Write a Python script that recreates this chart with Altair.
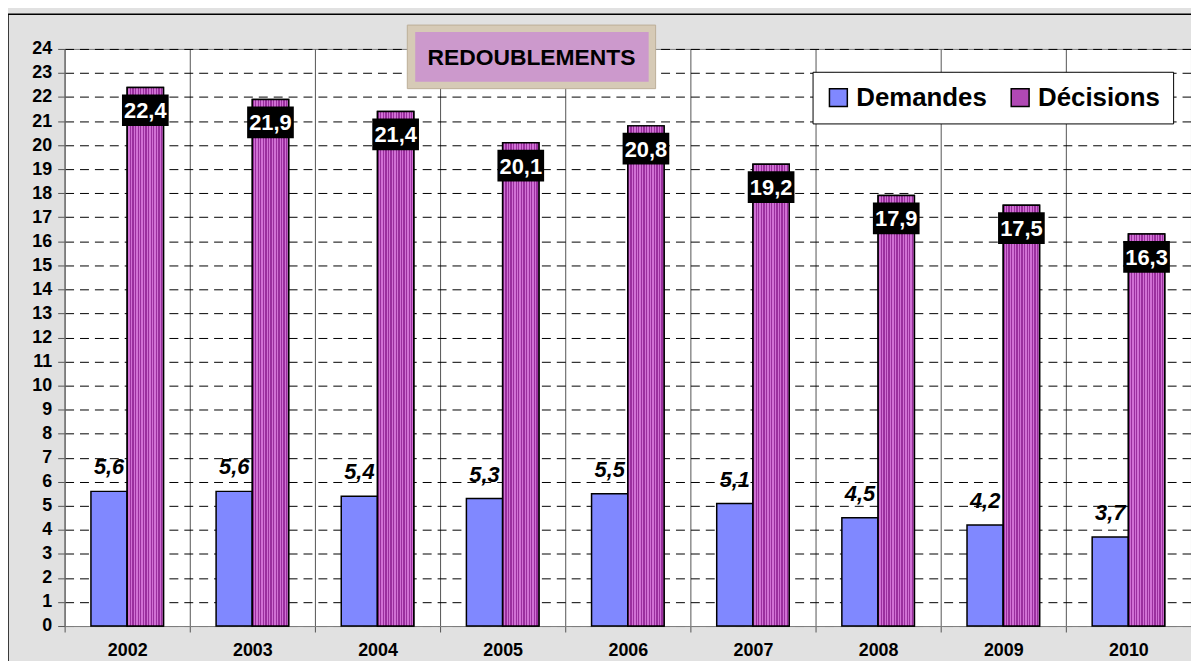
import altair as alt
import pandas as pd

years = ["2002", "2003", "2004", "2005", "2006", "2007", "2008", "2009", "2010"]
demandes = [5.6, 5.6, 5.4, 5.3, 5.5, 5.1, 4.5, 4.2, 3.7]
decisions = [22.4, 21.9, 21.4, 20.1, 20.8, 19.2, 17.9, 17.5, 16.3]
series = ["Demandes", "Décisions"]
y_ticks = list(range(0, 25))
title_text = "REDOUBLEMENTS"

rows = []
for yr, d, c in zip(years, demandes, decisions):
    rows.append({"year": yr, "series": series[0], "value": d, "label": f"{d:.1f}".replace(".", ",")})
    rows.append({"year": yr, "series": series[1], "value": c, "label": f"{c:.1f}".replace(".", ",")})
df = pd.DataFrame(rows)

W, H = 1134, 581
FONT = "Liberation Sans"

# striped fill for Décisions bars
stops = []
n = 14
for i in range(n):
    a, b = i / n, (i + 0.5) / n
    c2 = (i + 1) / n
    stops += [{"offset": a, "color": "#9a2f9e"}, {"offset": b, "color": "#9a2f9e"},
              {"offset": b, "color": "#d070d4"}, {"offset": c2, "color": "#d070d4"}]
stripe = {"gradient": "linear", "x1": 0, "x2": 1, "y1": 0, "y2": 0, "stops": stops}

x_enc = alt.X("year:N", sort=years,
              scale=alt.Scale(domain=years, paddingInner=0, paddingOuter=0),
              axis=alt.Axis(title=None, labelAngle=0, labelPadding=10, tickSize=6,
                            tickColor="#555555", domainColor="#808080", grid=True,
                            gridColor="#555555", gridDash=[], tickBand="extent"))
xoff = alt.XOffset("series:N", scale=alt.Scale(domain=series, paddingInner=0, paddingOuter=0.726))
y_enc = alt.Y("value:Q", scale=alt.Scale(domain=[0, 24], nice=False),
              axis=alt.Axis(title=None, values=y_ticks, tickSize=7, labelPadding=6,
                            grid=True, gridColor="black", gridDash=[9, 6], gridWidth=1,
                            domainColor="#808080", tickColor="#555555"))

base = alt.Chart(df)
one = alt.Chart(pd.DataFrame({"t": [title_text]}))

border = one.mark_rect(fillOpacity=0, stroke="black", strokeWidth=1.5).encode(
    x=alt.value(-57), x2=alt.value(W + 20), y=alt.value(-35), y2=alt.value(H + 60))

bars = base.mark_bar(stroke="black", strokeWidth=1.5).encode(
    x=x_enc, xOffset=xoff, y=y_enc,
    color=alt.Color("series:N",
                    scale=alt.Scale(domain=series, range=["#8088ff", "#b048b4"]),
                    legend=alt.Legend(title=None, orient="none", legendX=753, legendY=23,
                                      direction="horizontal", fillColor="white",
                                      strokeColor="black", padding=13, labelFont=FONT,
                                      labelFontSize=26, labelFontWeight="bold",
                                      labelColor="black", symbolType="square", symbolSize=324,
                                      symbolStrokeColor="black", symbolStrokeWidth=1.5,
                                      symbolOpacity=1, columnPadding=20, labelOffset=5)))

stripes = base.transform_filter(alt.datum.series == "Décisions").mark_bar(
    fill=stripe, stroke="black", strokeWidth=1.5).encode(x=x_enc, xOffset=xoff, y=y_enc)

dem_text = base.transform_filter(alt.datum.series == "Demandes").mark_text(
    font=FONT, fontSize=22, fontWeight="bold", fontStyle="italic", color="black",
    baseline="alphabetic", dy=-17).encode(x=x_enc, xOffset=xoff, y=y_enc, text="label:N")

box_shape = "M-1,-0.68 L1,-0.68 L1,0.68 L-1,0.68 Z"
dec_box = base.transform_filter(alt.datum.series == "Décisions").mark_point(
    shape=box_shape, size=2209, filled=True, fill="black", opacity=1, strokeWidth=0,
    yOffset=23).encode(x=x_enc, xOffset=xoff, y=y_enc)

dec_text = base.transform_filter(alt.datum.series == "Décisions").mark_text(
    font=FONT, fontSize=22, fontWeight="bold", color="white", baseline="middle",
    yOffset=24).encode(x=x_enc, xOffset=xoff, y=y_enc, text="label:N")

title_outer = one.mark_rect(fill="#d6cab6", stroke="#bcae98", strokeWidth=1).encode(
    x=alt.value(345), x2=alt.value(595), y=alt.value(-24), y2=alt.value(40))
title_inner = one.mark_rect(fill="#cc99cc").encode(
    x=alt.value(353), x2=alt.value(588), y=alt.value(-17), y2=alt.value(33))
title_lbl = one.mark_text(font=FONT, fontSize=23, fontWeight="bold", color="black",
                          baseline="middle", align="center").encode(
    x=alt.value(470), y=alt.value(9), text="t:N")

chart = alt.layer(border, bars, stripes, dem_text, dec_box, dec_text,
                  title_outer, title_inner, title_lbl).properties(
    width=W, height=H,
    autosize=alt.AutoSizeParams(type="none"),
    padding={"left": 57, "top": 39, "right": 0, "bottom": 33},
    background="#e1e1e1",
).configure_view(stroke="#808080", fill="white", strokeWidth=1
).configure_axis(labelFont=FONT, labelFontSize=18, labelFontWeight="bold", labelColor="black"
).configure_axisY(labelFontSize=18).configure_axisX(labelFontSize=18)

chart.save("out.html", embed_options={"renderer": "svg", "actions": False})
